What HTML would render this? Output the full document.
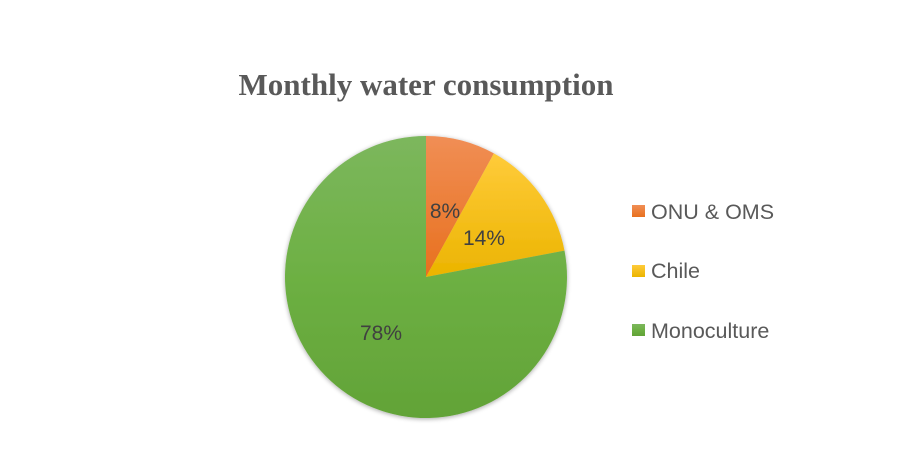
<!DOCTYPE html>
<html><head><style>
html,body{margin:0;padding:0;background:#fff;}
</style></head><body>
<svg width="907" height="467" xmlns="http://www.w3.org/2000/svg">
<defs>
<linearGradient id="go" x1="0" y1="0" x2="0" y2="1"><stop offset="0" stop-color="#F08E55"/><stop offset="1" stop-color="#E8701E"/></linearGradient>
<linearGradient id="gy" x1="0" y1="0" x2="0" y2="1"><stop offset="0" stop-color="#FFCB3A"/><stop offset="1" stop-color="#EBB400"/></linearGradient>
<linearGradient id="gg" x1="0" y1="0" x2="0" y2="1"><stop offset="0" stop-color="#7CB75D"/><stop offset="0.5" stop-color="#6DB043"/><stop offset="1" stop-color="#62A337"/></linearGradient>
<filter id="sh" x="-10%" y="-10%" width="120%" height="120%"><feGaussianBlur in="SourceAlpha" stdDeviation="2.5"/><feOffset dx="0" dy="1"/><feComponentTransfer><feFuncA type="linear" slope="0.35"/></feComponentTransfer><feMerge><feMergeNode/><feMergeNode in="SourceGraphic"/></feMerge></filter>
</defs>
<text x="426" y="95" text-anchor="middle" font-family="Liberation Serif, serif" font-weight="bold" font-size="31" fill="#595959">Monthly water consumption</text>
<g filter="url(#sh)">
<path d="M426,277 L426,136 A141,141 0 0 1 493.9,153.4 Z" fill="url(#go)"/>
<path d="M426,277 L493.9,153.4 A141,141 0 0 1 564.5,250.6 Z" fill="url(#gy)"/>
<path d="M426,277 L564.5,250.6 A141,141 0 1 1 426,136 Z" fill="url(#gg)"/>
</g>
<g font-family="Liberation Sans, sans-serif" font-size="21" fill="#404040" text-anchor="middle">
<text x="445" y="218">8%</text>
<text x="484" y="245">14%</text>
<text x="381" y="340">78%</text>
</g>
<rect x="632" y="205" width="13" height="12" fill="url(#go)"/>
<rect x="632" y="265" width="13" height="12" fill="url(#gy)"/>
<rect x="632" y="324" width="13" height="12" fill="url(#gg)"/>
<g font-family="Liberation Sans, sans-serif" font-size="21.5" fill="#595959">
<text x="651" y="219">ONU &amp; OMS</text>
<text x="651" y="278">Chile</text>
<text x="651" y="338">Monoculture</text>
</g>
</svg>
</body></html>
